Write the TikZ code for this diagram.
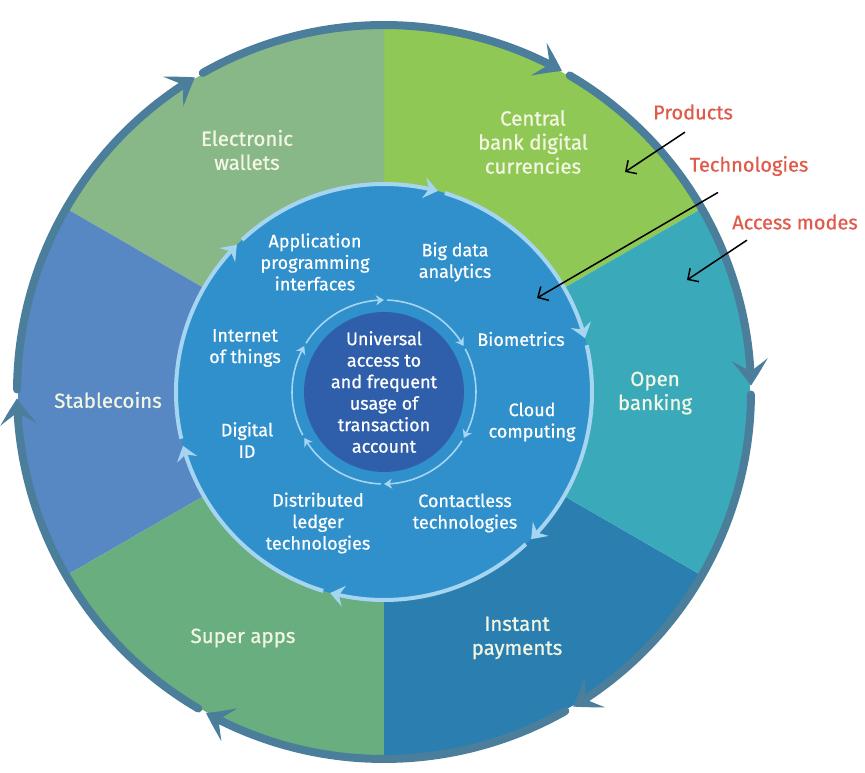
\documentclass[tikz,border=0pt]{standalone}
\usepackage{fontspec}
\setmainfont{Fira Sans}[FakeBold=0.7]
\usetikzlibrary{arrows.meta,bending}
\definecolor{walletgreen}{HTML}{88B888}
\definecolor{cbdcgreen}{HTML}{90C855}
\definecolor{openteal}{HTML}{3AAABB}
\definecolor{instantblue}{HTML}{2B7FB0}
\definecolor{superapp}{HTML}{68AE7F}
\definecolor{stableblue}{HTML}{5888C4}
\definecolor{techblue}{HTML}{3090CC}
\definecolor{ringblue}{HTML}{A5D5F0}
\definecolor{coreblue}{HTML}{2F5FAA}
\definecolor{outerring}{HTML}{4B7E9A}
\definecolor{labelred}{HTML}{E05A4C}
\definecolor{creamtext}{HTML}{F2F6E2}
\tikzset{
  prodtext/.style={text=creamtext, align=center, font=\fontsize{20.5}{24}\selectfont},
  techtext/.style={text=white, align=center, font=\fontsize{18}{21.5}\selectfont},
  layerlabel/.style={text=labelred, font=\fontsize{20}{24}\selectfont},
  outerarrow/.style={outerring, line width=8pt, line cap=round, -{Stealth[length=26pt,width=36pt,inset=12pt,bend]}},
  techarrow/.style={ringblue, line width=4pt, -{Stealth[length=14pt,width=21pt,inset=5pt,bend]}},
  corearrow/.style={ringblue, line width=1.6pt, -{Stealth[length=8pt,width=10pt,inset=2.5pt,bend]}},
  pointer/.style={black, line width=1.5pt, -{Straight Barb[length=8pt,width=16pt]}}
}
\begin{document}
\begin{tikzpicture}[x=1pt,y=1pt]
\useasboundingbox (0,0) rectangle (865,773);
\coordinate (ctr) at (384,381);
% access modes and products
\foreach \s/\col in {30/cbdcgreen,90/walletgreen,150/stableblue,210/superapp,270/instantblue,330/openteal}
  \fill[\col] (ctr) -- ++(\s:366) arc[start angle=\s, end angle=\s+60, radius=366] -- cycle;
\foreach \a in {0,60,...,300}
  \draw[outerarrow] ([shift={({\a+59.6}:367)}]ctr) arc[start angle=\a+59.6, end angle=\a+1, radius=367];
% technologies
\fill[techblue] (ctr) circle[radius=208];
\foreach \a in {15,75,...,315}
  \draw[techarrow] ([shift={({\a+58}:208)}]ctr) arc[start angle=\a+58, end angle=\a, radius=208];
% core
\fill[coreblue] (ctr) circle[radius=80];
\foreach \a in {30,90,...,330}
  \draw[corearrow] ([shift={({\a+58}:92)}]ctr) arc[start angle=\a+58, end angle=\a, radius=92];
\node[techtext] (core) at (ctr) {Universal\\access to\\and frequent\\usage of\\transaction\\account};

\node[prodtext] (wallets) at (247,623) {Electronic\\wallets};
\node[prodtext] (cbdc) at (533,631) {Central\\bank digital\\currencies};
\node[prodtext] (openbank) at (655,380) {Open\\banking};
\node[prodtext] (instant) at (517,135) {Instant\\payments};
\node[prodtext] (superapps) at (243,135) {Super apps};
\node[prodtext] (stablecoins) at (108,373) {Stablecoins};

\node[techtext] (api) at (315,511) {Application\\programming\\interfaces};
\node[techtext] (bigdata) at (455,511) {Big data\\analytics};
\node[techtext] (biometrics) at (521,434) {Biometrics};
\node[techtext] (cloud) at (532,351) {Cloud\\computing};
\node[techtext] (contactless) at (465,260) {Contactless\\technologies};
\node[techtext] (dlt) at (318,250) {Distributed\\ledger\\technologies};
\node[techtext] (digitalid) at (247,333) {Digital\\ID};
\node[techtext] (iot) at (245,425) {Internet\\of things};

% layer labels
\node[layerlabel] (products) at (693,661) {Products};
\node[layerlabel] (technologies) at (749,607) {Technologies};
\node[layerlabel] (accessmodes) at (795,551) {Access modes};
\coordinate (prodtip) at (625,601);
\coordinate (techtip) at (537,475);
\coordinate (accesstip) at (687,493);
\draw[pointer] ([shift={(-8,-9)}]products.south) -- (prodtip);
\draw[pointer] ([shift={(-31,-13)}]technologies.south) -- (techtip);
\draw[pointer] ([shift={(-48,-7)}]accessmodes.south) -- (accesstip);
\end{tikzpicture}
\end{document}
